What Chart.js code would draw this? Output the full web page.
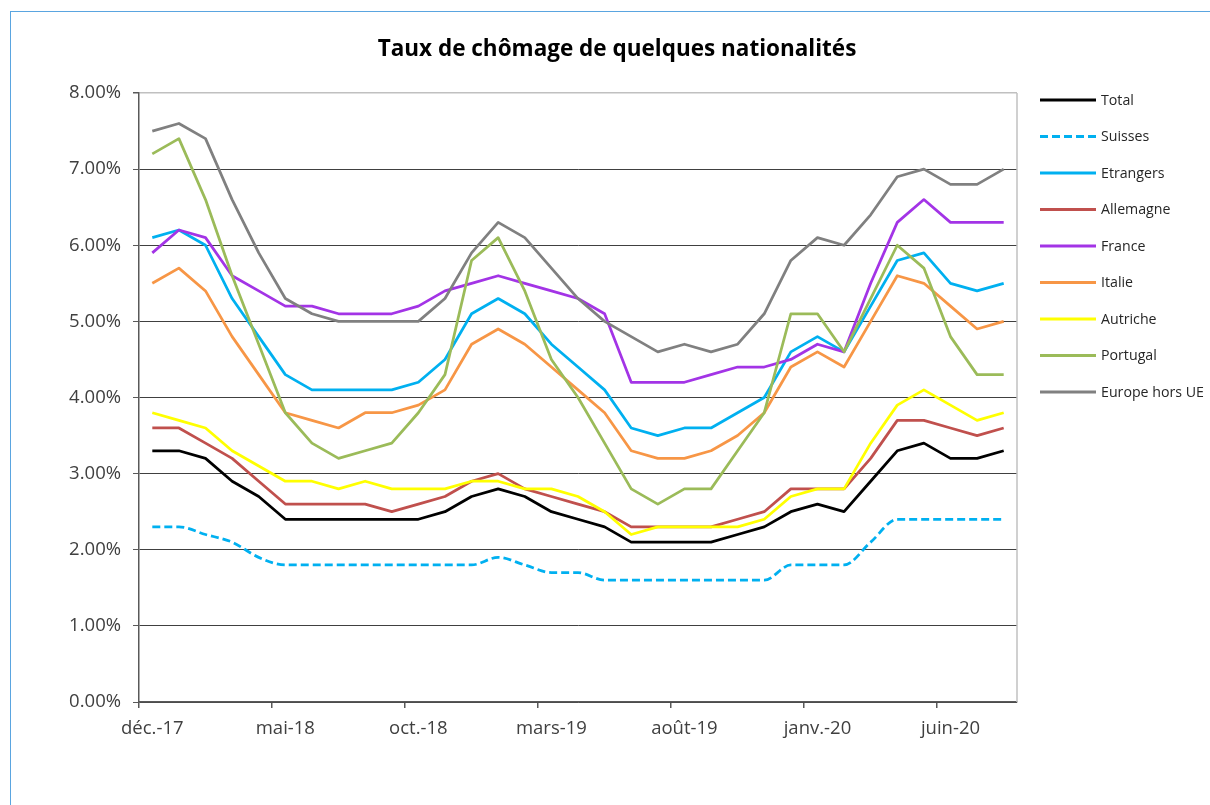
<!DOCTYPE html>
<html>
<head>
<meta charset="utf-8">
<script src="https://cdn.jsdelivr.net/npm/chart.js@4.4.1/dist/chart.umd.min.js"></script>
<style>
  html, body { margin: 0; padding: 0; background: #ffffff; overflow: hidden; }
  #frame { position: absolute; left: 10px; top: 11px; width: 1400px; height: 1000px;
           border-top: 1.5px solid #5aa5e0; border-left: 1.5px solid #5aa5e0; }
  #wrap { position: absolute; left: 0; top: 0; width: 1210px; height: 805px; }
</style>
</head>
<body>
<div id="frame"></div>
<div id="wrap"><canvas id="c" width="1210" height="805"></canvas></div>
<script>
// ---- Data ----
const months = ['déc.-17','janv.-18','févr.-18','mars-18','avr.-18','mai-18','juin-18','juil.-18','août-18','sept.-18',
  'oct.-18','nov.-18','déc.-18','janv.-19','févr.-19','mars-19','avr.-19','mai-19','juin-19','juil.-19',
  'août-19','sept.-19','oct.-19','nov.-19','déc.-19','janv.-20','févr.-20','mars-20','avr.-20','mai-20',
  'juin-20','juil.-20','août-20'];

const total      = [3.3,3.3,3.2,2.9,2.7,2.4,2.4,2.4,2.4,2.4,2.4,2.5,2.7,2.8,2.7,2.5,2.4,2.3,2.1,2.1,2.1,2.1,2.2,2.3,2.5,2.6,2.5,2.9,3.3,3.4,3.2,3.2,3.3];
const suisses    = [2.3,2.3,2.2,2.1,1.9,1.8,1.8,1.8,1.8,1.8,1.8,1.8,1.8,1.9,1.8,1.7,1.7,1.6,1.6,1.6,1.6,1.6,1.6,1.6,1.8,1.8,1.8,2.1,2.4,2.4,2.4,2.4,2.4];
const etrangers  = [6.1,6.2,6.0,5.3,4.8,4.3,4.1,4.1,4.1,4.1,4.2,4.5,5.1,5.3,5.1,4.7,4.4,4.1,3.6,3.5,3.6,3.6,3.8,4.0,4.6,4.8,4.6,5.2,5.8,5.9,5.5,5.4,5.5];
const allemagne  = [3.6,3.6,3.4,3.2,2.9,2.6,2.6,2.6,2.6,2.5,2.6,2.7,2.9,3.0,2.8,2.7,2.6,2.5,2.3,2.3,2.3,2.3,2.4,2.5,2.8,2.8,2.8,3.2,3.7,3.7,3.6,3.5,3.6];
const france     = [5.9,6.2,6.1,5.6,5.4,5.2,5.2,5.1,5.1,5.1,5.2,5.4,5.5,5.6,5.5,5.4,5.3,5.1,4.2,4.2,4.2,4.3,4.4,4.4,4.5,4.7,4.6,5.5,6.3,6.6,6.3,6.3,6.3];
const italie     = [5.5,5.7,5.4,4.8,4.3,3.8,3.7,3.6,3.8,3.8,3.9,4.1,4.7,4.9,4.7,4.4,4.1,3.8,3.3,3.2,3.2,3.3,3.5,3.8,4.4,4.6,4.4,5.0,5.6,5.5,5.2,4.9,5.0];
const autriche   = [3.8,3.7,3.6,3.3,3.1,2.9,2.9,2.8,2.9,2.8,2.8,2.8,2.9,2.9,2.8,2.8,2.7,2.5,2.2,2.3,2.3,2.3,2.3,2.4,2.7,2.8,2.8,3.4,3.9,4.1,3.9,3.7,3.8];
const portugal   = [7.2,7.4,6.6,5.6,4.7,3.8,3.4,3.2,3.3,3.4,3.8,4.3,5.8,6.1,5.4,4.5,4.0,3.4,2.8,2.6,2.8,2.8,3.3,3.8,5.1,5.1,4.6,5.3,6.0,5.7,4.8,4.3,4.3];
const europeHorsUE = [7.5,7.6,7.4,6.6,5.9,5.3,5.1,5.0,5.0,5.0,5.0,5.3,5.9,6.3,6.1,5.7,5.3,5.0,4.8,4.6,4.7,4.6,4.7,5.1,5.8,6.1,6.0,6.4,6.9,7.0,6.8,6.8,7.0];

const seriesNames = ['Total','Suisses','Etrangers','Allemagne','France','Italie','Autriche','Portugal','Europe hors UE'];
const seriesData  = [total, suisses, etrangers, allemagne, france, italie, autriche, portugal, europeHorsUE];
const seriesColors = ['#000000','#00b0f0','#00b0f0','#c0504d','#a334e6','#f79646','#ffff00','#9bbb59','#808080'];
const chartTitle = 'Taux de chômage de quelques nationalités';
const labelEvery = 5;

const FONT = '"Open Sans", "Noto Sans", sans-serif';

const datasets = seriesData.map((d, i) => ({
  label: seriesNames[i],
  data: d,
  borderColor: seriesColors[i],
  backgroundColor: seriesColors[i],
  borderWidth: 2.75,
  borderDash: i === 1 ? [8, 4] : [],
  cubicInterpolationMode: i === 1 ? 'monotone' : 'default',
  tension: 0,
  pointRadius: 0,
  pointHoverRadius: 0,
  borderJoinStyle: 'round',
  fill: false,
  order: seriesData.length - 1 - i
}));

const frameLines = {
  id: 'frameLines',
  beforeDatasetsDraw(chart) {
    const { ctx, chartArea: a } = chart;
    ctx.save();
    ctx.strokeStyle = '#c0c0c0';
    ctx.lineWidth = 1.5;
    ctx.beginPath();
    ctx.moveTo(a.right, a.top);
    ctx.lineTo(a.right, a.bottom);
    ctx.stroke();
    ctx.restore();
  }
};

const sideLegend = {
  id: 'sideLegend',
  afterDraw(chart) {
    const ctx = chart.ctx;
    ctx.save();
    // title
    ctx.fillStyle = '#000000';
    ctx.font = 'bold 22.5px ' + FONT;
    ctx.textAlign = 'center';
    ctx.textBaseline = 'middle';
    ctx.fillText(chartTitle, 617, 50);
    // legend
    ctx.textAlign = 'left';
    ctx.font = '14.2px ' + FONT;
    chart.data.datasets.forEach((ds, i) => {
      const y = 100 + i * 36.5;
      ctx.beginPath();
      ctx.setLineDash(ds.borderDash || []);
      ctx.strokeStyle = ds.borderColor;
      ctx.lineWidth = 3;
      ctx.moveTo(1040, y);
      ctx.lineTo(1096, y);
      ctx.stroke();
      ctx.setLineDash([]);
      ctx.fillStyle = '#262626';
      ctx.fillText(ds.label, 1101, y + 0.5);
    });
    ctx.restore();
  }
};

new Chart(document.getElementById('c'), {
  type: 'line',
  data: { labels: months, datasets },
  plugins: [frameLines, sideLegend],
  options: {
    responsive: false,
    animation: false,
    devicePixelRatio: 1,
    layout: { padding: { left: 0, right: 193, top: 93, bottom: 0 } },
    plugins: { legend: { display: false }, title: { display: false }, tooltip: { enabled: false } },
    scales: {
      x: {
        type: 'category',
        offset: true,
        grid: {
          offset: true,
          drawOnChartArea: false,
          tickLength: 6,
          lineWidth: 1.5,
          color: c => (c.index % labelEvery === 0 && c.index < months.length) ? '#595959' : 'rgba(0,0,0,0)'
        },
        border: { color: '#595959', width: 1.5 },
        ticks: {
          autoSkip: false, maxRotation: 0, minRotation: 0, padding: 10,
          color: '#404040', font: { family: FONT, size: 18.5 },
          callback: (v, i) => (i % labelEvery === 0 ? months[i] : '')
        },
        afterFit(s) { s.height = 103; }
      },
      y: {
        min: 0, max: 8,
        ticks: {
          stepSize: 1, padding: 12, color: '#404040', font: { family: FONT, size: 18.5 },
          callback: v => v.toFixed(2) + '%'
        },
        grid: {
          color: c => (c.tick && c.tick.value === 8) ? '#c0c0c0' : '#404040',
          lineWidth: c => (c.tick && c.tick.value === 8) ? 1.5 : 1,
          tickColor: '#595959',
          tickLength: 6
        },
        border: { color: '#595959', width: 1.5 },
        afterFit(s) { s.width = 139; }
      }
    }
  }
});
</script>
</body>
</html>
